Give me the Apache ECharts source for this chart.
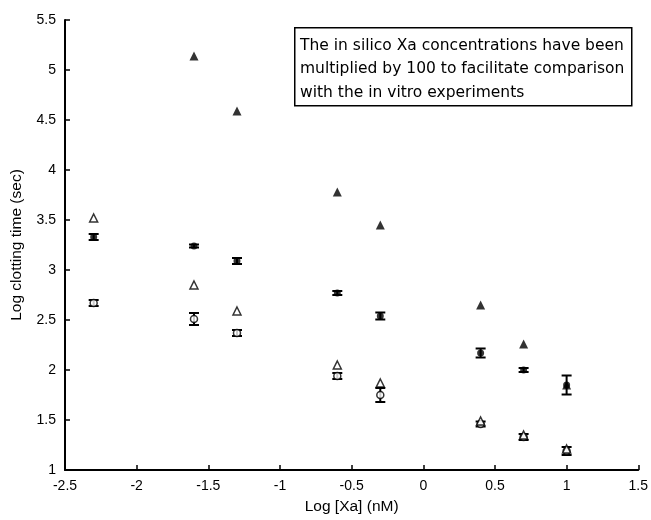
<!DOCTYPE html>
<html><head><meta charset="utf-8">
<script src="https://cdn.jsdelivr.net/npm/echarts@6/dist/echarts.min.js"></script>
<style>html,body{margin:0;padding:0;background:#fff}#c{width:651px;height:520px}</style>
</head><body><div id="c"></div>
<script>
const xCats = [-2.3, -1.6, -1.3, -0.6, -0.3, 0.4, 0.7, 1.0];
const filledTriX = [-1.6, -1.3, -0.6, -0.3, 0.4, 0.7, 1.0];
const filledTriY = [5.14, 4.59, 3.78, 3.45, 2.65, 2.26, 1.85];
const filledCircY = [3.33, 3.24, 3.09, 2.77, 2.54, 2.17, 2.00, 1.85];
const filledCircErr = [0.03, 0.015, 0.03, 0.02, 0.035, 0.045, 0.02, 0.095];
const hollowTriY = [3.52, 2.85, 2.59, 2.05, 1.87, 1.49, 1.35, 1.21];
const hollowCircY = [2.67, 2.51, 2.37, 1.94, 1.75, 1.46, 1.33, 1.19];
const hollowCircErr = [0.03, 0.06, 0.03, 0.03, 0.07, 0.025, 0.03, 0.04];
const noteLines = ['The in silico Xa concentrations have been', 'multiplied by 100 to facilitate comparison', 'with the in vitro experiments'];

function errData(ys, errs) {
  return xCats.map((x, i) => [x, ys[i] - errs[i], ys[i] + errs[i]]);
}
function errRender(params, api) {
  const x = api.value(0), lo = api.value(1), hi = api.value(2);
  const pLo = api.coord([x, lo]), pHi = api.coord([x, hi]);
  const w = 5;
  const st = {stroke: '#000', lineWidth: 2};
  return {type: 'group', children: [
    {type: 'line', shape: {x1: pLo[0], y1: pLo[1], x2: pHi[0], y2: pHi[1]}, style: st},
    {type: 'line', shape: {x1: pLo[0]-w, y1: pLo[1], x2: pLo[0]+w, y2: pLo[1]}, style: st},
    {type: 'line', shape: {x1: pHi[0]-w, y1: pHi[1], x2: pHi[0]+w, y2: pHi[1]}, style: st}
  ]};
}
const font = 'Liberation Sans, Arial, sans-serif';
const chart = echarts.init(document.getElementById('c'));
chart.setOption({
  animation: false,
  grid: {left: 65, right: 11, top: 20, bottom: 49},
  xAxis: {
    type: 'value', min: -2.5, max: 1.5, interval: 0.5,
    name: 'Log [Xa] (nM)', nameLocation: 'middle', nameGap: 29,
    nameTextStyle: {color: '#000', fontSize: 15.5, fontFamily: font},
    axisLine: {onZero: false, lineStyle: {color: '#000', width: 2}},
    axisTick: {inside: true, length: 5, lineStyle: {color: '#000', width: 1.5}},
    axisLabel: {color: '#000', fontSize: 14, fontFamily: font, margin: 9},
    splitLine: {show: false}
  },
  yAxis: {
    type: 'value', min: 1, max: 5.5, interval: 0.5,
    name: 'Log clotting time (sec)', nameLocation: 'middle', nameGap: 40,
    nameTextStyle: {color: '#000', fontSize: 15.5, fontFamily: font},
    axisLine: {show: true, onZero: false, lineStyle: {color: '#000', width: 2}},
    axisTick: {show: true, inside: true, length: 5, lineStyle: {color: '#000', width: 1.5}},
    axisLabel: {color: '#000', fontSize: 14, fontFamily: font, margin: 9},
    splitLine: {show: false}
  },
  series: [
    {type: 'custom', renderItem: errRender, data: errData(filledCircY, filledCircErr), z: 2},
    {type: 'custom', renderItem: errRender, data: errData(hollowCircY, hollowCircErr), z: 2},
    {type: 'scatter', data: xCats.map((x, i) => [x, hollowCircY[i]]), symbol: 'circle', symbolSize: 7,
     itemStyle: {color: '#fff', borderColor: '#000', borderWidth: 1.5}, z: 3},
    {type: 'scatter', data: xCats.map((x, i) => [x, filledCircY[i]]), symbol: 'circle', symbolSize: 7,
     itemStyle: {color: '#000'}, z: 3},
    {type: 'scatter', data: xCats.map((x, i) => [x, hollowTriY[i]]), symbol: 'triangle', symbolSize: 8,
     itemStyle: {color: '#fff', borderColor: '#000', borderWidth: 1.5}, z: 4},
    {type: 'scatter', data: filledTriX.map((x, i) => [x, filledTriY[i]]), symbol: 'triangle', symbolSize: 9,
     itemStyle: {color: '#000'}, z: 4}
  ],
  graphic: [
    {type: 'rect', left: 294, top: 27, shape: {width: 337, height: 78},
     style: {fill: '#fff', stroke: '#000', lineWidth: 1.5}, z: 10},
    {type: 'text', left: 300, top: 34, z: 11,
     style: {text: noteLines.join('\n'), fill: '#000', font: '15.5px DejaVu Sans, sans-serif', lineHeight: 23.5}}
  ]
});
</script></body></html>
